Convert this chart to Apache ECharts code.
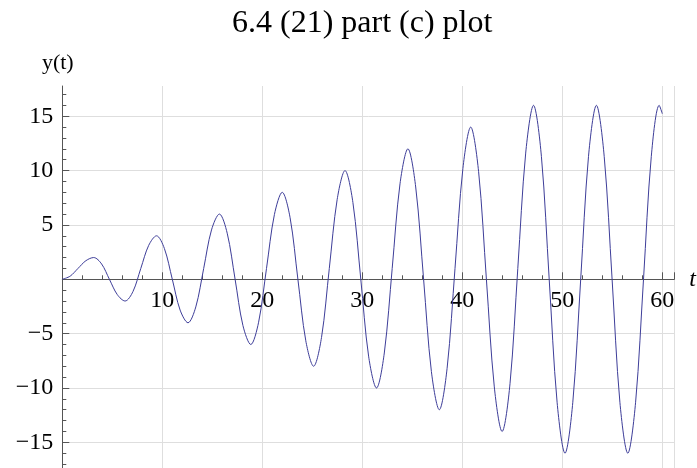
<!DOCTYPE html>
<html>
<head>
<meta charset="utf-8">
<script src="https://cdn.jsdelivr.net/npm/echarts@6.0.0/dist/echarts.min.js"></script>
<style>
  html, body { margin: 0; padding: 0; background: #fff; }
  #chart { width: 697px; height: 468px; }
</style>
</head>
<body>
<div id="chart"></div>
<script>
// t values (every quarter of pi)
var tValues = [0, 0.79, 1.57, 2.36, 3.14, 3.93, 4.71, 5.50, 6.28, 7.07, 7.85, 8.64,
    9.42, 10.21, 11.00, 11.78, 12.57, 13.35, 14.14, 14.92, 15.71, 16.49, 17.28, 18.06,
    18.85, 19.63, 20.42, 21.21, 21.99, 22.78, 23.56, 24.35, 25.13, 25.92, 26.70, 27.49,
    28.27, 29.06, 29.85, 30.63, 31.42, 32.20, 32.99, 33.77, 34.56, 35.34, 36.13, 36.91,
    37.70, 38.48, 39.27, 40.06, 40.84, 41.63, 42.41, 43.20, 43.98, 44.77, 45.55, 46.34,
    47.12, 47.91, 48.69, 49.48, 50.27, 51.05, 51.84, 52.62, 53.41, 54.19, 54.98, 55.76,
    56.55, 57.33, 58.12, 58.90, 59.69, 60];

// y(t) values at those t
var yValues = [0, 0.29, 1, 1.71,
    2, 1.41, 0, -1.41,
    -2, -1.12, 1, 3.12,
    4, 2.83, 0, -2.83,
    -4, -2.54, 1, 4.54,
    6, 4.24, 0, -4.24,
    -6, -3.95, 1, 5.95,
    8, 5.66, 0, -5.66,
    -8, -5.36, 1, 7.36,
    10, 7.07, 0, -7.07,
    -10, -6.78, 1, 8.78,
    12, 8.49, 0, -8.49,
    -12, -8.19, 1, 10.19,
    14, 9.90, 0, -9.90,
    -14, -9.61, 1, 11.61,
    16, 11.31, 0, -11.31,
    -16, -11.31, 0, 11.31,
    16, 11.31, 0, -11.31,
    -16, -11.31, 0, 11.31,
    16, 15.23];

// tick positions
var yMajorTicks = [-15, -10, -5, 0, 5, 10, 15];
var yLabelTicks = [-15, -10, -5, 5, 10, 15];
var yMinorTicks = [-17, -16, -14, -13, -12, -11, -9, -8, -7, -6, -4, -3, -2, -1,
    1, 2, 3, 4, 6, 7, 8, 9, 11, 12, 13, 14, 16, 17];

var FONT = 'Liberation Serif, Times New Roman, serif';
var AXIS_COLOR = '#555';
var GRID_COLOR = '#dedede';

var Y_MIN = -17.36, Y_MAX = 17.78;
var GRID_TOP = 86, GRID_H = 382;
// move the t axis up from the grid bottom to y = 0
var zeroOffset = -GRID_H * (0 - Y_MIN) / (Y_MAX - Y_MIN);

var points = [];
for (var i = 0; i < tValues.length; i++) {
    points.push([tValues[i], yValues[i]]);
}

function minusFmt(v) {
    return v < 0 ? '\u2212' + (-v) : '' + v;
}

var myChart = echarts.init(document.getElementById('chart'));
var option = {
    animation: false,
    backgroundColor: '#fff',
    title: {
        text: '6.4 (21) part (c) plot',
        left: 232,
        top: 8,
        padding: 0,
        textStyle: {
            fontFamily: FONT,
            fontWeight: 'normal',
            fontSize: 32,
            color: '#000'
        }
    },
    grid: {
        left: 62.3,
        right: 22.7,
        top: GRID_TOP,
        height: GRID_H,
        containLabel: false,
        outerBoundsMode: 'none'
    },
    xAxis: {
        type: 'value',
        min: 0,
        max: 61.2,
        interval: 10,
        position: 'bottom',
        offset: zeroOffset,
        name: 't',
        nameLocation: 'end',
        nameGap: 15,
        nameTextStyle: {
            fontFamily: FONT,
            fontStyle: 'italic',
            fontSize: 24,
            color: '#000',
            padding: [8, 0, 0, 0]
        },
        axisLine: { onZero: false, lineStyle: { color: AXIS_COLOR, width: 1 } },
        axisTick: { inside: true, length: 7, lineStyle: { color: AXIS_COLOR } },
        minorTick: { show: true, splitNumber: 5, length: 4, lineStyle: { color: AXIS_COLOR } },
        axisLabel: {
            margin: 9,
            fontFamily: FONT,
            fontSize: 24,
            color: '#000',
            formatter: function (v) { return v === 0 ? '' : '' + v; }
        },
        splitLine: { show: true, lineStyle: { color: GRID_COLOR, width: 1 } }
    },
    yAxis: [
        {
            type: 'value',
            min: Y_MIN,
            max: Y_MAX,
            position: 'left',
            name: 'y(t)',
            nameLocation: 'end',
            nameGap: 12,
            nameTextStyle: {
                fontFamily: FONT,
                fontSize: 22,
                color: '#000',
                padding: [0, 9, 0, 0]
            },
            axisLine: { show: true, onZero: false, lineStyle: { color: AXIS_COLOR, width: 1 } },
            axisTick: { show: true, inside: true, length: 7, customValues: yMajorTicks, lineStyle: { color: AXIS_COLOR } },
            axisLabel: {
                margin: 9,
                fontFamily: FONT,
                fontSize: 24,
                color: '#000',
                customValues: yLabelTicks,
                formatter: minusFmt
            },
            splitLine: { show: true, lineStyle: { color: GRID_COLOR, width: 1 } }
        },
        {
            type: 'value',
            min: Y_MIN,
            max: Y_MAX,
            position: 'left',
            offset: 0,
            axisLine: { show: false, onZero: false },
            axisTick: { show: true, inside: true, length: 4, customValues: yMinorTicks, lineStyle: { color: AXIS_COLOR } },
            axisLabel: { show: false },
            splitLine: { show: false }
        }
    ],
    series: [
        {
            type: 'line',
            data: points,
            yAxisIndex: 0,
            smooth: 0.333,
            showSymbol: false,
            lineStyle: { color: '#3d3d99', width: 1 },
            z: 3
        }
    ]
};
myChart.setOption(option);
</script>
</body>
</html>
